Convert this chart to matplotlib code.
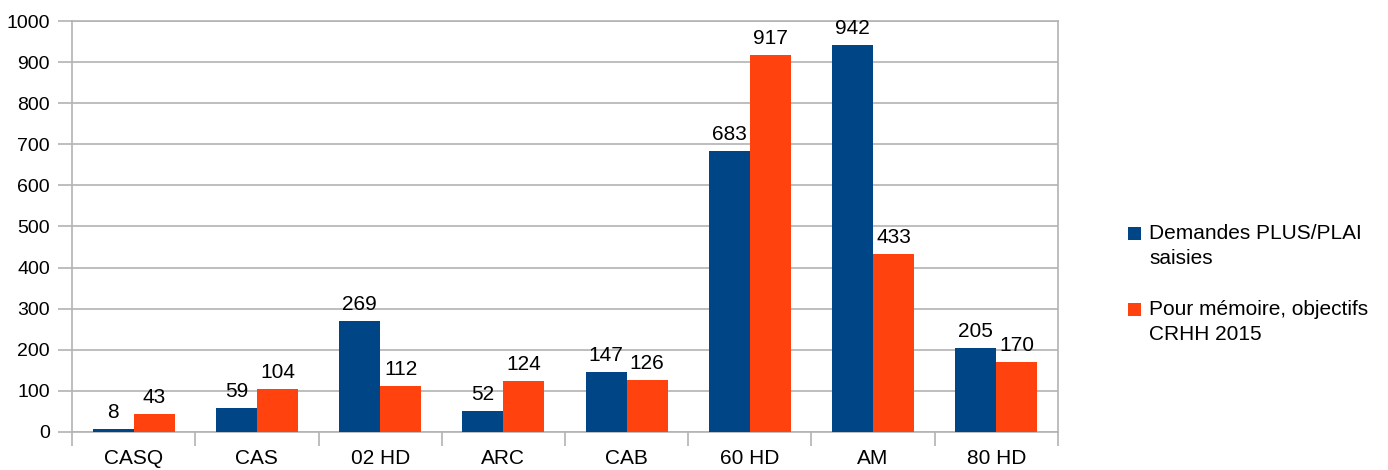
import numpy as np
import matplotlib.pyplot as plt
from matplotlib.patches import Rectangle
from matplotlib.container import BarContainer
from matplotlib.legend_handler import HandlerPatch, update_from_first_child

plt.rcParams['font.family'] = ['Liberation Sans', 'DejaVu Sans']

categories = ['CASQ', 'CAS', '02 HD', 'ARC', 'CAB', '60 HD', 'AM', '80 HD']
demandes = [8, 59, 269, 52, 147, 683, 942, 205]
objectifs = [43, 104, 112, 124, 126, 917, 433, 170]
labels = ['Demandes PLUS/PLAI\nsaisies', 'Pour mémoire, objectifs\nCRHH 2015']

blue = '#004586'
orange = '#ff420e'
grey = '#b3b3b3'


def top_square(legend, orig_handle, xdescent, ydescent, width, height, fontsize):
    # square next to the first line of the label, not the middle
    sq = 0.62 * fontsize
    return Rectangle((-xdescent, -ydescent + height - sq + 0.08 * fontsize), sq, sq)


fig = plt.figure(figsize=(13.88, 4.70), dpi=100)
ax = fig.add_axes([0.0519, 0.0809, 0.7103, 0.8744])

x = np.arange(len(categories))
w = 1 / 3
b1 = ax.bar(x - w / 2, demandes, w, color=blue, label=labels[0], zorder=3)
b2 = ax.bar(x + w / 2, objectifs, w, color=orange, label=labels[1], zorder=3)

for bars in (b1, b2):
    for r in bars:
        ax.annotate(str(int(r.get_height())), (r.get_x() + r.get_width() / 2, r.get_height()),
                    xytext=(0, 5), textcoords='offset points', ha='center', va='bottom',
                    fontsize=15, color='black')

ax.set_xlim(-0.5, len(categories) - 0.5)
ax.set_ylim(0, 1000)
ax.set_yticks(range(0, 1001, 100))
ax.yaxis.grid(True, color=grey, linewidth=1.2, zorder=0)

ax.set_xticks(np.arange(-0.5, len(categories), 1))
ax.set_xticklabels([])
ax.set_xticks(x, minor=True)
ax.set_xticklabels(categories, minor=True)
ax.tick_params(axis='x', which='major', length=10, color=grey, width=1.2)
ax.tick_params(axis='x', which='minor', length=0, labelsize=15, pad=12)
ax.tick_params(axis='y', length=10, color=grey, width=1.2, labelsize=14, pad=6)

for s in ax.spines.values():
    s.set_color(grey)
    s.set_linewidth(1.2)

leg = ax.legend(loc='center left', bbox_to_anchor=(1.052, 0.36), frameon=False, fontsize=15,
                handlelength=0.62, handleheight=2.3, handletextpad=0.4, labelspacing=1.5,
                handler_map={BarContainer: HandlerPatch(patch_func=top_square,
                                                        update_func=update_from_first_child)})
for t in leg.get_texts():
    t.set_linespacing(1.45)

fig.savefig('out.png', dpi=100)
